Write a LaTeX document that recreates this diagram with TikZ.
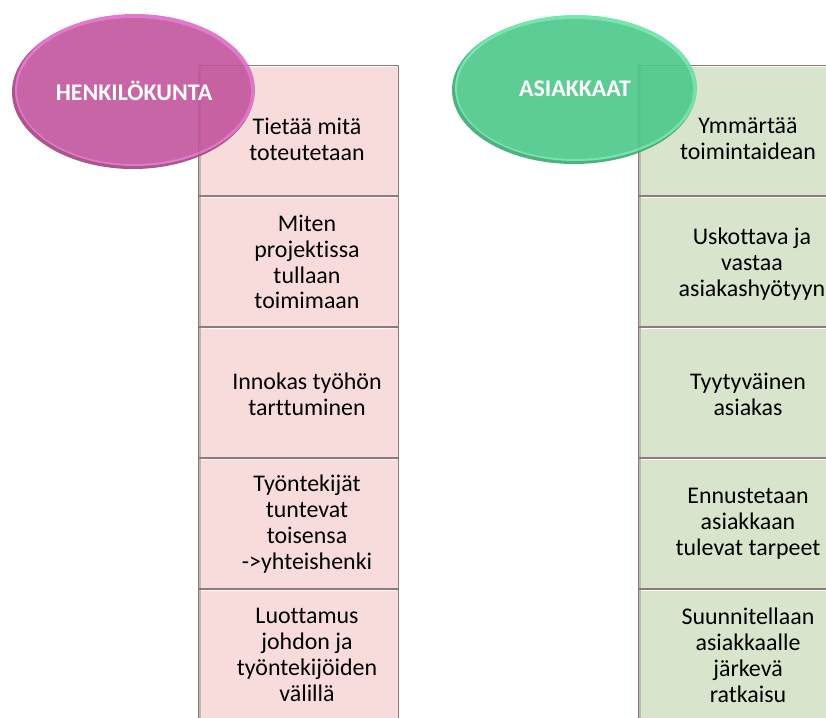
\documentclass[tikz,border=0pt]{standalone}
\usepackage{fontspec}
\setmainfont{Carlito}[Ligatures=NoCommon]
\usetikzlibrary{shapes.geometric}
\definecolor{pinkfill}{HTML}{F8DCDC}
\definecolor{greenfill}{HTML}{D8E4CC}
\definecolor{boxline}{HTML}{8E7A7A}
\definecolor{magmain}{HTML}{C2549C}
\definecolor{magrim}{HTML}{E06AC6}
\definecolor{magdark}{HTML}{A0467E}
\definecolor{grnmain}{HTML}{4CC88A}
\definecolor{grnrim}{HTML}{68E2A4}
\definecolor{grndark}{HTML}{3CA874}
\tikzset{
  cell/.style={draw=boxline, line width=0.9bp},
  celltext/.style={align=center, font=\fontsize{24}{26}\selectfont, text=black, inner sep=0pt},
  titletext/.style={font=\fontsize{24}{26}\selectfont\bfseries, text=white, inner sep=0pt},
}
\begin{document}
\begin{tikzpicture}[x=1bp,y=-1bp]
\useasboundingbox (0,0) rectangle (826,718);

% ---- left column: HENKILOKUNTA ----
\foreach \t/\b in {65/195, 196/326, 327/457, 458/588, 589/725}{
  \fill[pinkfill] (198,\t) rectangle (398,\b);
  \draw[white, line width=1.2bp] (200,\t+1.5) -- (396,\t+1.5);
  \fill[boxline!55] (198,\t) rectangle (200.5,\b);
  \draw[cell] (198,\t) rectangle (398,\b);
}
% ---- right column: ASIAKKAAT ----
\foreach \t/\b in {65/195, 196/326, 327/457, 458/588, 589/725}{
  \fill[greenfill] (638,\t) rectangle (840,\b);
  \draw[white, line width=1.2bp] (640,\t+1.5) -- (838,\t+1.5);
  \fill[boxline!55] (638,\t) rectangle (640.5,\b);
  \draw[cell] (638,\t) rectangle (840,\b);
}

\node[celltext] (l1) at (307,139) {Tietää mitä\\toteutetaan};
\node[celltext] (l2) at (307,262) {Miten\\projektissa\\tullaan\\toimimaan};
\node[celltext] (l3) at (307,394) {Innokas työhön\\tarttuminen};
\node[celltext] (l4) at (307,524) {Työntekijät\\tuntevat\\toisensa\\->yhteishenki};
\node[celltext] (l5) at (307,655) {Luottamus\\johdon ja\\työntekijöiden\\välillä};

\node[celltext] (r1) at (748,139) {Ymmärtää\\toimintaidean};
\node[celltext] (r2) at (752,264) {Uskottava ja\\vastaa\\asiakashyötyyn};
\node[celltext] (r3) at (748,394) {Tyytyväinen\\asiakas};
\node[celltext] (r4) at (748,524) {Ennustetaan\\asiakkaan\\tulevat tarpeet};
\node[celltext] (r5) at (748,655) {Suunnitellaan\\asiakkaalle\\järkevä\\ratkaisu};

% ---- glossy, slightly see-through ellipses ----
\begin{scope}[transparency group, opacity=0.9]
  \fill[magdark] (133,92) ellipse [x radius=121, y radius=77];
  \fill[magrim] (135,90) ellipse [x radius=120, y radius=76];
  \fill[magmain] (134,91) ellipse [x radius=117, y radius=73];
\end{scope}
\node[titletext] (henk) at (134,91) {HENKILÖKUNTA};

\begin{scope}[transparency group, opacity=0.9]
  \fill[grndark] (574,90) ellipse [x radius=122, y radius=74];
  \fill[grnrim] (576,88) ellipse [x radius=121, y radius=73];
  \fill[grnmain] (575,89) ellipse [x radius=118, y radius=70];
\end{scope}
\node[titletext] (asia) at (575,89) {ASIAKKAAT};
\end{tikzpicture}
\end{document}
